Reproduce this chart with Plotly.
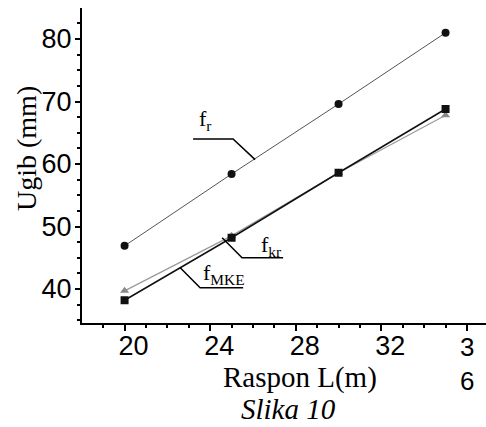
import plotly.graph_objects as go

# Span L (m)
raspon = [20, 25, 30, 35]

# Deflection (mm) for the three methods
f_r = [46.9, 58.4, 69.6, 81.0]
f_kr = [39.7, 48.5, 58.6, 67.8]
f_mke = [38.2, 48.2, 58.6, 68.8]

x_ticks = [20, 24, 28, 32, 36]
x_ticktext = ["20", "24", "28", "32", ""]
y_ticks = [40, 50, 60, 70, 80]

serif = "Liberation Serif, Times New Roman, serif"
sans = "Liberation Sans, Arial, sans-serif"

fig = go.Figure()

fig.add_trace(go.Scatter(
    x=raspon, y=f_r, mode="lines+markers",
    line=dict(color="#555555", width=1),
    marker=dict(symbol="circle", size=8, color="#111111"),
    showlegend=False,
))
fig.add_trace(go.Scatter(
    x=raspon, y=f_kr, mode="lines+markers",
    line=dict(color="#9a9a9a", width=1.2),
    marker=dict(symbol="triangle-up", size=8, color="#8a8a8a"),
    showlegend=False,
))
fig.add_trace(go.Scatter(
    x=raspon, y=f_mke, mode="lines+markers",
    line=dict(color="#111111", width=1.5),
    marker=dict(symbol="square", size=8, color="#111111"),
    showlegend=False,
))

# Leader lines from the curve labels to their curves
leaders = [
    [(23.2, 64.0), (25.07, 64.0), (26.1, 60.7)],
    [(24.56, 48.2), (25.49, 45.0), (27.41, 45.0)],
    [(22.6, 43.4), (23.53, 40.2), (25.54, 40.2)],
]
for pts in leaders:
    path = "M " + " L ".join(f"{x},{y}" for x, y in pts)
    fig.add_shape(type="path", path=path, xref="x", yref="y",
                  line=dict(color="black", width=1.5))

labels = [
    ("f<sub>r</sub>", 23.76, 67.0),
    ("f<sub>kr</sub>", 26.85, 46.9),
    ("f<sub>MKE</sub>", 24.65, 42.4),
]
for txt, x, y in labels:
    fig.add_annotation(x=x, y=y, xref="x", yref="y", text=txt, showarrow=False,
                       font=dict(family=serif, size=22, color="black"))

# Last x tick label wraps onto two lines
fig.add_annotation(x=36, y=0, xref="x", yref="paper", text="3<br>6", showarrow=False,
                   xanchor="center", yanchor="top", yshift=-7,
                   font=dict(family=sans, size=26, color="black"))

# Axis titles and caption
fig.add_annotation(x=(300 - 82) / 404, y=-54 / 315, xref="paper", yref="paper",
                   text="Raspon L(m)", showarrow=False,
                   xanchor="center", yanchor="middle",
                   font=dict(family=serif, size=29, color="black"))
fig.add_annotation(x=(288 - 82) / 404, y=-86 / 315, xref="paper", yref="paper",
                   text="<i>Slika 10</i>", showarrow=False,
                   xanchor="center", yanchor="middle",
                   font=dict(family=serif, size=29, color="black"))
fig.add_annotation(x=(26 - 82) / 404, y=(323 - 148) / 315, xref="paper", yref="paper",
                   text="Ugib (mm)", showarrow=False, textangle=-90,
                   xanchor="center", yanchor="middle",
                   font=dict(family=serif, size=28, color="black"))

fig.update_layout(
    width=486, height=427,
    margin=dict(l=82, r=0, t=8, b=104),
    paper_bgcolor="white", plot_bgcolor="white",
)

fig.update_xaxes(
    range=[18.01, 36.89], tickmode="array", tickvals=x_ticks, ticktext=x_ticktext,
    showline=True, linecolor="black", linewidth=2, mirror=False,
    ticks="outside", ticklen=6, tickwidth=1.5, tickcolor="black",
    ticklabelshift=9, ticklabelstandoff=-8,
    minor=dict(dtick=1, tick0=20, ticks="outside", ticklen=3, tickwidth=1.5, tickcolor="black"),
    showgrid=False, zeroline=False,
    tickfont=dict(family=sans, size=27, color="black"),
)
fig.update_yaxes(
    range=[34.56, 84.96], tickmode="array", tickvals=y_ticks,
    showline=True, linecolor="black", linewidth=2,
    ticks="outside", ticklen=5, tickwidth=1.5, tickcolor="black",
    ticklabelstandoff=-2,
    minor=dict(dtick=2.5, tick0=40, ticks="outside", ticklen=3, tickwidth=1.5, tickcolor="black"),
    showgrid=False, zeroline=False,
    tickfont=dict(family=sans, size=27, color="black"),
)

fig.write_html("out.html")
